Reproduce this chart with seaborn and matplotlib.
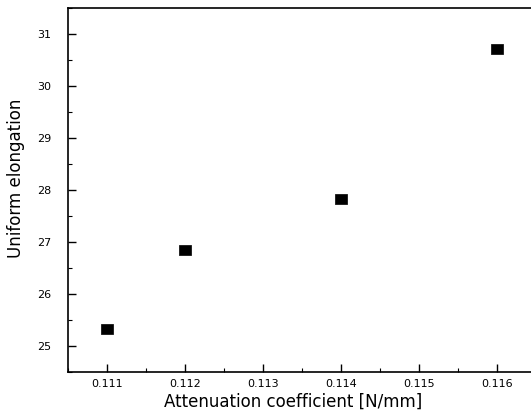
import numpy as np
import pandas as pd
import matplotlib
matplotlib.use("Agg")
import matplotlib.pyplot as plt
from matplotlib.ticker import MultipleLocator
import seaborn as sns

attenuation = [0.111, 0.112, 0.114, 0.116]
elongation = [25.32, 26.85, 27.83, 30.70]
xticks = [0.111, 0.112, 0.113, 0.114, 0.115, 0.116]
xticklabels = ["0.111", "0.112", "0.113", "0.114", "0.115", "0.116"]
yticks = [25, 26, 27, 28, 29, 30, 31]

df = pd.DataFrame({"att": attenuation, "elong": elongation})

sns.set_style("ticks")
plt.rcParams["font.family"] = ["DejaVu Sans"]
plt.rcParams["text.color"] = "black"
plt.rcParams["axes.labelcolor"] = "black"
plt.rcParams["xtick.color"] = "black"
plt.rcParams["ytick.color"] = "black"

fig = plt.figure(figsize=(5.31, 4.11), dpi=100)
ax = fig.add_axes([0.128, 0.095, 0.881, 0.886])

rect = [(-1, -0.75), (1, -0.75), (1, 0.75), (-1, 0.75), (-1, -0.75)]
sns.scatterplot(data=df, x="att", y="elong", marker=rect, s=78,
                color="black", edgecolor="black", linewidth=0.5, ax=ax)

ax.set_xlim(0.1105, 0.1165)
ax.set_ylim(24.5, 31.5)
ax.set_xticks(xticks)
ax.set_xticklabels(xticklabels, fontsize=8)
ax.set_yticks(yticks)
ax.set_yticklabels([str(v) for v in yticks], fontsize=8)
ax.xaxis.set_minor_locator(MultipleLocator(0.0005))
ax.yaxis.set_minor_locator(MultipleLocator(0.5))
ax.tick_params(which="major", direction="in", length=6, width=1,
               top=False, right=False)
ax.tick_params(axis="x", which="major", pad=5)
ax.tick_params(axis="y", which="major", pad=12)
ax.tick_params(which="minor", direction="in", length=3, width=0.8,
               top=False, right=False)
for sp in ax.spines.values():
    sp.set_linewidth(1.2)
    sp.set_color("black")

ax.set_xlabel("Attenuation coefficient [N/mm]", fontsize=12)
ax.xaxis.set_label_coords(0.482, -0.056)
ax.set_ylabel("Uniform elongation", fontsize=12)
ax.yaxis.set_label_coords(-0.092, 0.533)

fig.savefig("out.png", dpi=100)
